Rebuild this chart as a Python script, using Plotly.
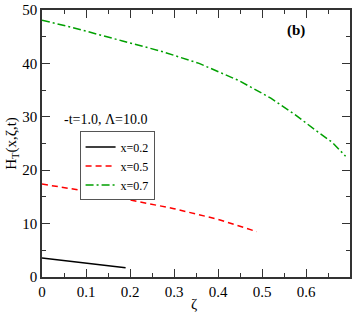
import plotly.graph_objects as go

zeta_02 = [0.0, 0.05, 0.10, 0.15, 0.19]
H_02 = [3.55, 3.1, 2.65, 2.2, 1.75]

zeta_05 = [0.0, 0.1, 0.183, 0.3, 0.4, 0.447, 0.488]
H_05 = [17.4, 16.1, 14.7, 12.8, 10.8, 9.6, 8.5]

zeta_07 = [0.0, 0.07, 0.183, 0.27, 0.357, 0.447, 0.52, 0.575, 0.62, 0.66, 0.69]
H_07 = [48.1, 46.7, 44.2, 42.3, 40.0, 36.8, 33.5, 30.4, 27.6, 25.2, 22.6]

x_ticks = [0, 0.1, 0.2, 0.3, 0.4, 0.5, 0.6]
x_tick_labels = ["0", "0.1", "0.2", "0.3", "0.4", "0.5", "0.6"]
y_ticks = [0, 10, 20, 30, 40, 50]
y_tick_labels = ["0", "10", "20", "30", "40", "50"]

series_names = ["x=0.2", "x=0.5", "x=0.7"]
legend_title = "-t=1.0, Λ=10.0"
panel_label = "<b>(b)</b>"

font = "Liberation Serif"

fig = go.Figure()
fig.add_trace(go.Scatter(x=zeta_02, y=H_02, mode="lines", name=series_names[0],
                         line=dict(color="black", width=1.5)))
fig.add_trace(go.Scatter(x=zeta_05, y=H_05, mode="lines", name=series_names[1],
                         line=dict(color="#ff0000", width=1.5, dash="6px,4px")))
fig.add_trace(go.Scatter(x=zeta_07, y=H_07, mode="lines", name=series_names[2],
                         line=dict(color="#00a000", width=1.5, dash="8px,3px,2px,3px")))

axis_common = dict(showgrid=False, zeroline=False, showline=True, mirror="allticks",
                   linecolor="#333", linewidth=1.5, ticks="inside", ticklen=8,
                   tickwidth=1, tickcolor="#333", ticklabeloverflow="allow",
                   tickfont=dict(family=font, size=15, color="black"))

fig.update_xaxes(range=[0, 0.7], tickmode="array", tickvals=x_ticks, ticktext=x_tick_labels,
                 minor=dict(dtick=0.05, tick0=0, ticks="inside", ticklen=4, tickcolor="#333"),
                 **axis_common)
fig.update_yaxes(range=[0, 50], tickmode="array", tickvals=y_ticks, ticktext=y_tick_labels,
                 minor=dict(dtick=5, tick0=0, ticks="inside", ticklen=4, tickcolor="#333"),
                 title=dict(text="H<sub>T</sub>(x,ζ,t)", font=dict(family=font, size=15, color="black"), standoff=2),
                 **axis_common)

fig.add_annotation(text="ζ", xref="paper", yref="paper", x=0.493, y=-0.1,
                   xanchor="center", yanchor="middle", showarrow=False,
                   font=dict(family=font, size=15, color="black"))
fig.add_annotation(text=legend_title, xref="paper", yref="paper", x=0.065, y=0.59,
                   xanchor="left", yanchor="middle", showarrow=False,
                   font=dict(family=font, size=14, color="black"))
fig.add_annotation(text=panel_label, xref="paper", yref="paper", x=0.825, y=0.925,
                   xanchor="center", yanchor="middle", showarrow=False,
                   font=dict(family=font, size=15, color="black"))

fig.update_layout(
    width=354, height=313,
    margin=dict(l=42, r=2, t=7, b=36),
    paper_bgcolor="white", plot_bgcolor="white",
    showlegend=True,
    legend=dict(x=0.122, y=0.545, xanchor="left", yanchor="top",
                bgcolor="white", bordercolor="#555", borderwidth=1,
                font=dict(family=font, size=12, color="black"),
                tracegroupgap=0, itemwidth=30),
)

fig.write_html("out.html", config={"displayModeBar": False},
               post_script="document.body.style.margin='0';document.body.style.overflow='hidden';")
